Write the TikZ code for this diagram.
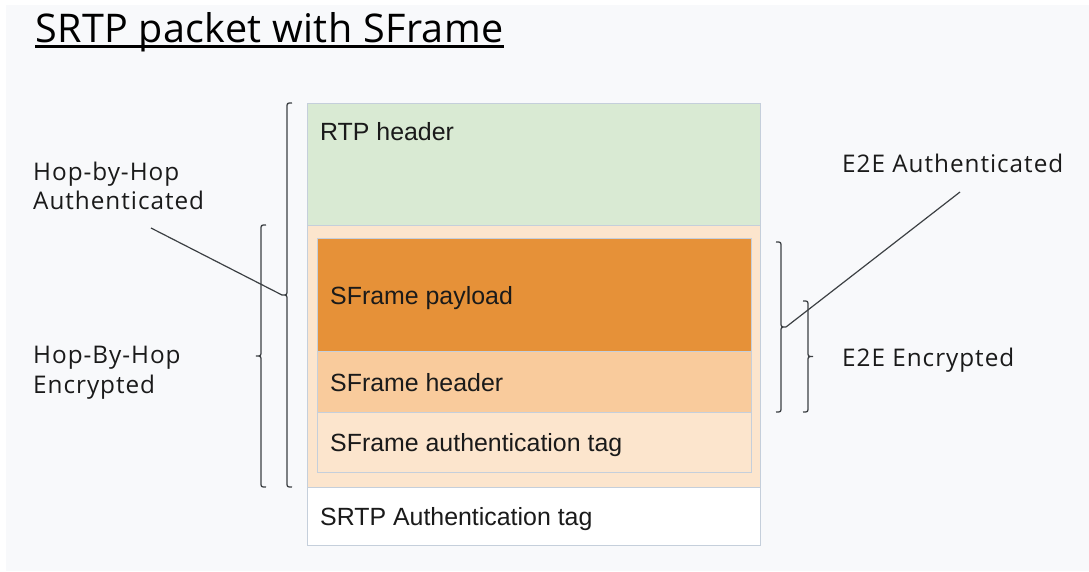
\documentclass[tikz,border=0pt]{standalone}
\usepackage{fontspec}
\setmainfont{Liberation Sans}
\newfontfamily\labelfont{Open Sans}[LetterSpace=4]
\newfontfamily\titlefont{Open Sans}[LetterSpace=1]
\definecolor{pagebg}{HTML}{F8F9FB}
\definecolor{rtpgreen}{HTML}{D9EAD3}
\definecolor{lightorange}{HTML}{FCE5CD}
\definecolor{midorange}{HTML}{F9CB9C}
\definecolor{darkorange}{HTML}{E69138}
\definecolor{boxedge}{HTML}{C5CFDB}
\definecolor{inkline}{HTML}{3C4043}
\definecolor{inktext}{HTML}{1A1A1A}

% curly brace opening to the right: spine x, top y, bottom y, cusp name
\newcommand\openbrace[4]{%
  \draw[bracestyle] ({#1+5},#2) .. controls (#1,#2) and (#1,#2) .. (#1,{#2+5})
    -- (#1,{(#2+#3)/2-5}) .. controls (#1,{(#2+#3)/2}) and (#1,{(#2+#3)/2}) .. ({#1-5},{(#2+#3)/2}) coordinate (#4)
    .. controls (#1,{(#2+#3)/2}) and (#1,{(#2+#3)/2}) .. (#1,{(#2+#3)/2+5})
    -- (#1,{#3-5}) .. controls (#1,#3) and (#1,#3) .. ({#1+5},#3);}
% curly brace opening to the left
\newcommand\closebrace[4]{%
  \draw[bracestyle] ({#1-5},#2) .. controls (#1,#2) and (#1,#2) .. (#1,{#2+5})
    -- (#1,{(#2+#3)/2-5}) .. controls (#1,{(#2+#3)/2}) and (#1,{(#2+#3)/2}) .. ({#1+5},{(#2+#3)/2}) coordinate (#4)
    .. controls (#1,{(#2+#3)/2}) and (#1,{(#2+#3)/2}) .. (#1,{(#2+#3)/2+5})
    -- (#1,{#3-5}) .. controls (#1,#3) and (#1,#3) .. ({#1-5},#3);}

\tikzset{
  layer/.style={draw=boxedge, line width=1pt, inner sep=0pt, outer sep=0pt, anchor=north west},
  fieldtext/.style={anchor=base west, inner sep=0pt, text=inktext, font=\fontsize{24.9}{28}\selectfont},
  sidetext/.style={anchor=base west, inner sep=0pt, text=inktext, font=\labelfont\fontsize{24.3}{29}\selectfont},
  bracestyle/.style={draw=inkline, line width=1.3pt},
  pointer/.style={draw=inkline, line width=1.2pt},
}

\begin{document}
\begin{tikzpicture}[x=1pt, y=-1pt]
  \useasboundingbox (0,0) rectangle (1089,571);
  \fill[white] (0,0) rectangle (1089,571);
  \fill[pagebg] (6,5) rectangle (1089,571);

  % title
  \node[anchor=base west, inner sep=0pt, text=black, font=\titlefont\fontsize{39.5}{44}\selectfont] (title) at (35,42.7) {SRTP packet with SFrame};
  \draw[line width=2.2pt, black] (title.west |- 0,46.5) -- (title.east |- 0,46.5);

  % packet layers
  \node[layer, fill=rtpgreen, minimum width=453pt, minimum height=122pt] (rtp) at (307,103) {};
  \node[layer, fill=lightorange, minimum width=453pt, minimum height=262pt] (body) at (307,225) {};
  \node[layer, fill=darkorange, minimum width=434pt, minimum height=113pt] (payload) at (317,238) {};
  \node[layer, fill=midorange, minimum width=434pt, minimum height=61pt] (sfhdr) at (317,351) {};
  \node[layer, fill=lightorange, minimum width=434pt, minimum height=60pt] (sftag) at (317,412) {};
  \node[layer, fill=white, minimum width=453pt, minimum height=58pt] (srtptag) at (307,487) {};

  \node[fieldtext] (trtp) at (320,140) {RTP header};
  \node[fieldtext] (tpayload) at (330,304) {SFrame payload};
  \node[fieldtext] (tsfhdr) at (330,391) {SFrame header};
  \node[fieldtext] (tsftag) at (330,451) {SFrame authentication tag};
  \node[fieldtext] (tsrtp) at (320,525) {SRTP Authentication tag};

  % braces
  \openbrace{287}{103}{487}{hbhauth}
  \openbrace{261}{225}{487}{hbhenc}
  \closebrace{781}{242}{412}{e2eauth}
  \closebrace{808}{301}{412}{e2eenc}

  % side labels
  \node[sidetext] (lhop1) at (33,180) {Hop-by-Hop};
  \node[sidetext] (lhop2) at (33,209) {Authenticated};
  \node[sidetext] (lenc1) at (33,363) {Hop-By-Hop};
  \node[sidetext] (lenc2) at (33,393) {Encrypted};
  \node[sidetext] (le2ea) at (842,172.7) {E2E Authenticated};
  \node[sidetext] (le2ee) at (842,366.7) {E2E Encrypted};

  % pointers from labels to braces
  \coordinate (hbhstart) at (151,228);
  \coordinate (e2estart) at (960,192);
  \draw[pointer] (hbhstart) -- (hbhauth);
  \draw[pointer] (e2estart) -- (e2eauth);
\end{tikzpicture}
\end{document}
